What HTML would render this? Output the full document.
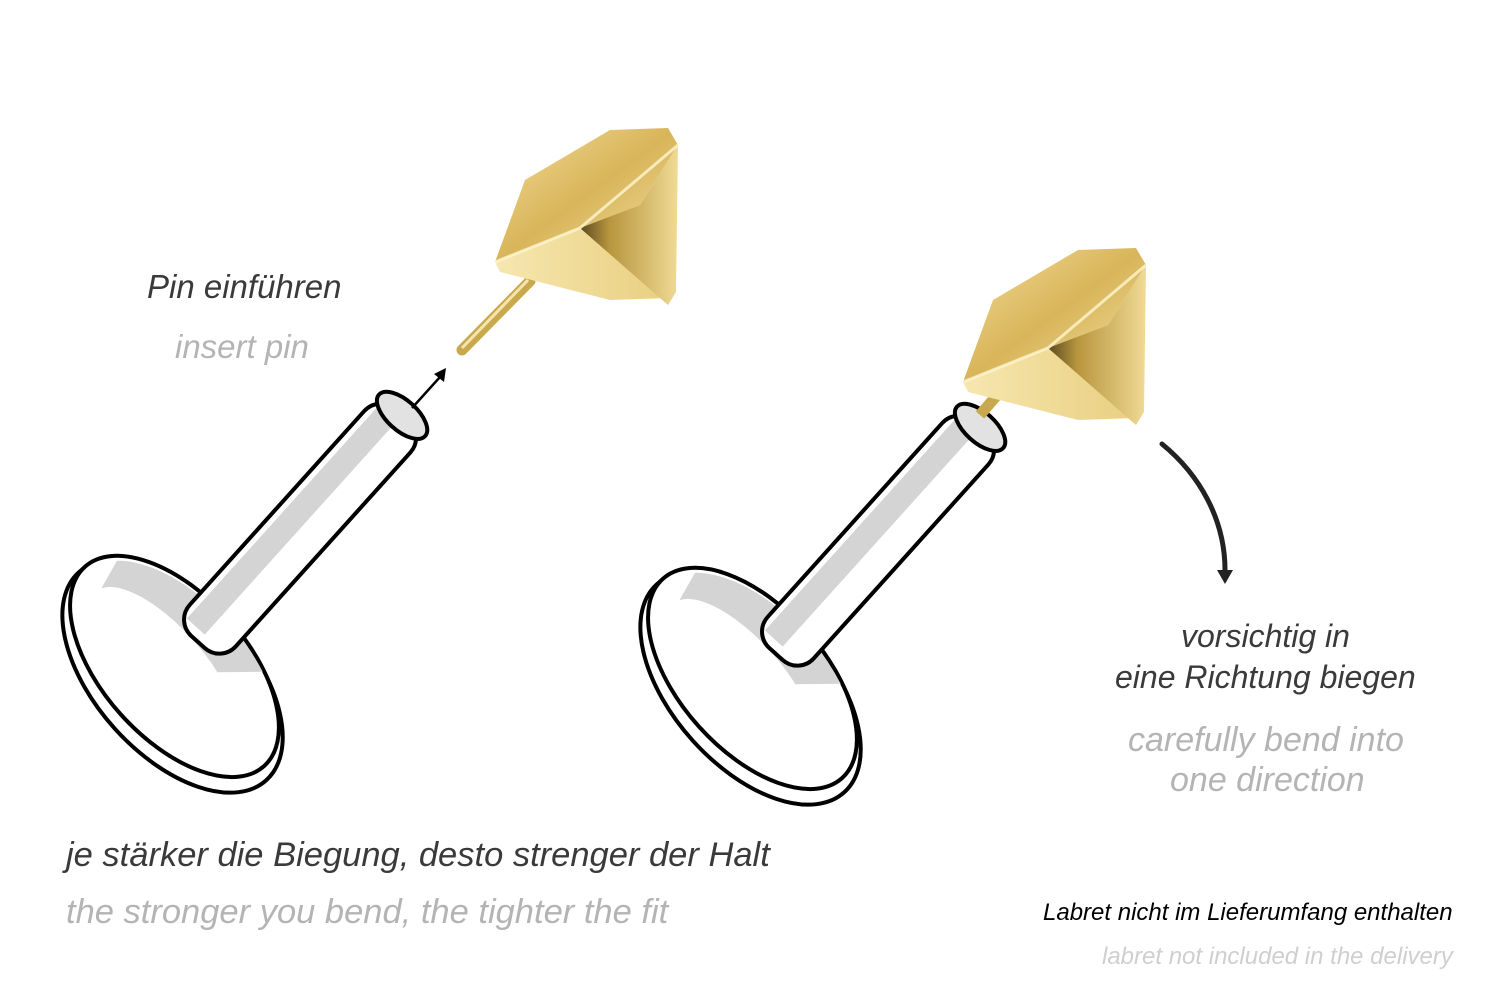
<!DOCTYPE html>
<html><head><meta charset="utf-8"><style>
html,body{margin:0;padding:0;background:#fff;}
body{width:1500px;height:1001px;overflow:hidden;position:relative;font-family:"Liberation Sans",sans-serif;font-style:italic;}
.t{position:absolute;white-space:nowrap;}
.d{color:#3a3a3a;}
.g{color:#b4b4b4;}
</style></head><body>
<svg width="1500" height="1001" style="position:absolute;left:0;top:0">
<defs>
<linearGradient id="gt" x1="0" y1="0" x2="1" y2="1"><stop offset="0" stop-color="#f3dc98"/><stop offset="0.5" stop-color="#d8b55a"/><stop offset="1" stop-color="#f5e3a8"/></linearGradient>
<linearGradient id="gb" x1="0" y1="0" x2="1" y2="0"><stop offset="0" stop-color="#f7e7b0"/><stop offset="1" stop-color="#e8cf80"/></linearGradient>
<linearGradient id="gr" x1="0" y1="0" x2="1" y2="0"><stop offset="0" stop-color="#5a4a20"/><stop offset="0.3" stop-color="#b8963e"/><stop offset="1" stop-color="#f0da95"/></linearGradient>
<g id="labret">
  <g transform="translate(175,670) rotate(48)">
    <ellipse cx="3" cy="6" rx="140" ry="78" fill="#fff" stroke="#000" stroke-width="4"/>
    <ellipse cx="-3" cy="-2" rx="134" ry="72" fill="#fff" stroke="#000" stroke-width="4"/>
    <path d="M-120,-30 A134,72 0 0 1 60,-64 L30,-30 A100,40 0 0 0 -110,0Z" fill="#d4d4d4"/>
  </g>
  <g transform="translate(198,642) rotate(-48)">
    <rect x="0" y="-31" width="305" height="62" rx="22" fill="#fff" stroke="#000" stroke-width="4"/>
    <rect x="10" y="-24" width="285" height="24" fill="#d4d4d4"/>
    <ellipse cx="305" cy="0" rx="15" ry="31" fill="#e2e2e2" stroke="#000" stroke-width="4"/>
  </g>
</g>
<g id="dia">
  <polygon points="495,262 525,180 610,130 668,128 678,145 640,205 580,228" fill="url(#gt)"/>
  <polygon points="495,262 580,228 668,298 610,300 500,272" fill="url(#gb)"/>
  <polygon points="580,228 640,205 678,145 676,292 668,305" fill="url(#gr)"/>
  <polyline points="495,262 580,228 678,145" fill="none" stroke="#fff6d0" stroke-width="3" opacity="0.8"/>
</g>
</defs>
<use href="#labret"/>
<use href="#labret" transform="translate(578,12)"/>
<line x1="462" y1="350" x2="530" y2="281" stroke="#c9a94e" stroke-width="11" stroke-linecap="round"/>
<line x1="462" y1="348" x2="528" y2="280" stroke="#f4e4ae" stroke-width="3"/>
<use href="#dia"/>
<line x1="980" y1="415" x2="1010" y2="380" stroke="#c9a94e" stroke-width="11"/>
<use href="#dia" transform="translate(468,120)"/>
<line x1="412" y1="408" x2="440" y2="377" stroke="#000" stroke-width="2.5"/>
<polygon points="446,368 444,382 434,374" fill="#000"/>
<path d="M1162,444 C1200,475 1225,520 1225,570" fill="none" stroke="#222" stroke-width="5" stroke-linecap="round"/>
<polygon points="1217,570 1233,570 1225,584" fill="#222"/>
</svg>
<div class="t d" style="left:147px;top:268px;font-size:33px">Pin einführen</div>
<div class="t g" style="left:175px;top:328px;font-size:33px">insert pin</div>
<div class="t d" style="left:1181px;top:618px;font-size:32px">vorsichtig in</div>
<div class="t d" style="left:1115px;top:659px;font-size:32px">eine Richtung biegen</div>
<div class="t g" style="left:1128px;top:721px;font-size:34px">carefully bend into</div>
<div class="t g" style="left:1170px;top:761px;font-size:34px">one direction</div>
<div class="t d" style="left:66px;top:836px;font-size:34.5px">je stärker die Biegung, desto strenger der Halt</div>
<div class="t g" style="left:66px;top:893px;font-size:34.5px">the stronger you bend, the tighter the fit</div>
<div class="t" style="left:1043px;top:899px;font-size:24px;color:#000">Labret nicht im Lieferumfang enthalten</div>
<div class="t" style="left:1102px;top:943px;font-size:24px;color:#cfcfcf">labret not included in the delivery</div>
</body></html>
